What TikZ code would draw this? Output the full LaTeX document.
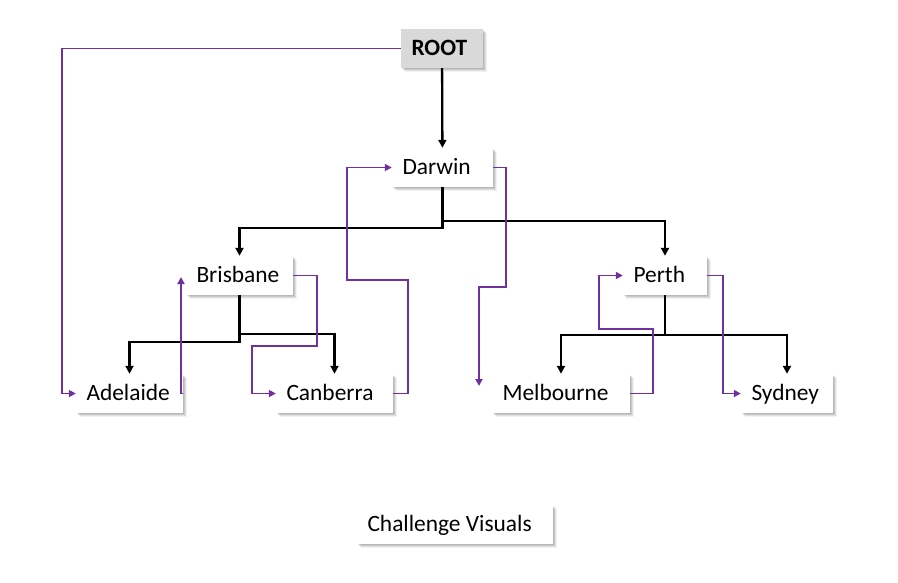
\documentclass[tikz,border=0pt]{standalone}
\usepackage{fontspec}
\setmainfont{Carlito}
\usetikzlibrary{arrows.meta,shadows}
\definecolor{travc}{HTML}{7030A0}
\definecolor{rootgray}{HTML}{D9D9D9}
\begin{document}
\begin{tikzpicture}[x=1pt,y=-1pt,
  softshadow/.style={
    general shadow={shadow xshift=3.5pt,shadow yshift=-4pt,fill=black,opacity=0.05},
    general shadow={shadow xshift=2.5pt,shadow yshift=-3pt,fill=black,opacity=0.08},
    general shadow={shadow xshift=1.5pt,shadow yshift=-2pt,fill=black,opacity=0.10},
    general shadow={shadow xshift=0.5pt,shadow yshift=-1pt,fill=black,opacity=0.08}},
  box/.style={draw=none,fill=white,minimum height=39pt,inner ysep=0pt,inner xsep=10.5pt,
    text height=18pt,text depth=4pt,
    align=flush left,font=\fontsize{23.4}{28}\selectfont,softshadow},
  tree/.style={draw=black,line width=2.3pt,-{Triangle[length=8pt,width=8pt]}},
  trav/.style={draw=travc,line width=1.9pt,-{Triangle[length=7pt,width=7pt]}}]
\fill[white] (0,0) rectangle (898,582);
\useasboundingbox (0,0) rectangle (898,582);
% nodes
\node[box,fill=rootgray,text width=61pt,font=\fontsize{23.4}{28}\selectfont\bfseries] (root) at (442,48.5) {ROOT};
\node[box,text width=80pt] (darwin) at (442.5,167.5) {Darwin};
\node[box,text width=86pt] (brisbane) at (239.5,275.5) {Brisbane};
\node[box,text width=86pt] (adelaide) at (129.5,393.5) {Adelaide};
\node[box,text width=96pt] (canberra) at (334.5,393.5) {Canberra};
\node[box,text width=63pt] (perth) at (665,275.5) {Perth};
\node[box,text width=117pt] (melbourne) at (561,393.5) {Melbourne};
\node[box,text width=71pt] (sydney) at (787,393.5) {Sydney};
\node[box,text width=175pt] (cv) at (455,524.5) {Challenge Visuals};
% free ends
\coordinate (a1) at (181,277);
\coordinate (d1) at (479,386);
% tree connectors
\draw[tree] (root) -- (darwin);
\draw[tree] (darwin.south) -- (darwin.south |- 0,228) -| (brisbane.north);
\draw[tree] (darwin.south) -- (darwin.south |- 0,221) -| (perth.north);
\draw[tree] (brisbane.south) -- (brisbane.south |- 0,342) -| (adelaide.north);
\draw[tree] (brisbane.south) -- (brisbane.south |- 0,334) -| (canberra.north);
\draw[tree] (perth.south) -- (perth.south |- 0,335) -| (melbourne.north);
\draw[tree] (perth.south) -- (perth.south |- 0,335) -| (sydney.north);
% traversal connectors
\draw[trav] (root.west) -- (root.west -| 62,0) |- (adelaide.west);
\draw[trav] (adelaide.east) -- (a1 |- adelaide.east) -- (a1);
\draw[trav] (brisbane.east) -| (317,346) -- (252,346) |- (canberra.west);
\draw[trav] (canberra.east) -| (408,280) -- (347,280) |- (darwin.west);
\draw[trav] (darwin.east) -| (506,287) -- (479,287) -- (d1);
\draw[trav] (melbourne.east) -| (653,329) -- (599,329) |- (perth.west);
\draw[trav] (perth.east) -- (perth.east -| 723,0) |- (sydney.west);
\end{tikzpicture}
\end{document}
